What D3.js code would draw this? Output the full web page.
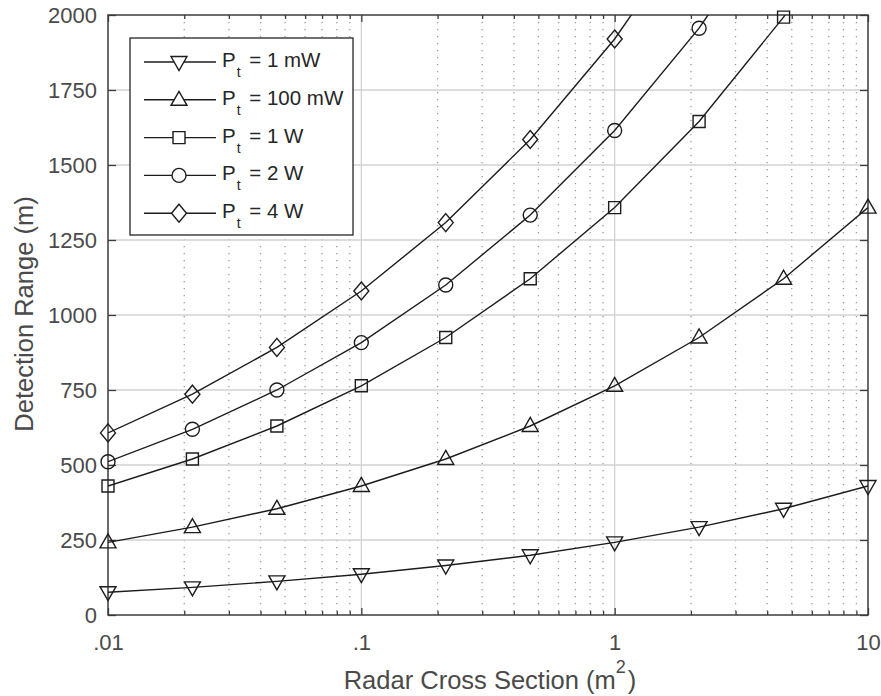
<!DOCTYPE html>
<html>
<head>
<meta charset="utf-8">
<script src="https://cdn.jsdelivr.net/npm/d3@7"></script>
<style>
  body { margin: 0; background: #fff; }
  text { font-family: "Liberation Sans", Arial, Helvetica, sans-serif; }
</style>
</head>
<body>
<svg id="chart" width="881" height="696"></svg>
<script>
// Radar cross section samples (m^2), log-spaced over three decades
const rcs = [0.01, 0.02154, 0.04642, 0.1, 0.2154, 0.4642, 1, 2.154, 4.642, 10];

// Detection range (m) for each transmit power
const range1mW   = [76, 92, 112, 136, 165, 199, 242, 293, 354, 430];
const range100mW = [242, 293, 354, 430, 520, 630, 764, 925, 1121, 1358];
const range1W    = [430, 520, 630, 764, 925, 1121, 1358, 1645, 1993, 2415];
const range2W    = [511, 619, 750, 908, 1100, 1333, 1615, 1956, 2370, 2872];
const range4W    = [607, 736, 892, 1080, 1308, 1585, 1920, 2327, 2819, 3415];

const powerLabels = ["1 mW", "100 mW", "1 W", "2 W", "4 W"];
const markerTypes = ["triangleDown", "triangleUp", "square", "circle", "diamond"];

const xTickValues = [0.01, 0.1, 1, 10];
const xTickLabels = [".01", ".1", "1", "10"];
const yTickValues = [0, 250, 500, 750, 1000, 1250, 1500, 1750, 2000];

const series = [range1mW, range100mW, range1W, range2W, range4W].map((vals, i) => ({
  label: powerLabels[i],
  marker: markerTypes[i],
  points: vals.map((v, j) => ({ x: rcs[j], y: v }))
}));

const svg = d3.select("#chart");
const plotLeft = 108, plotRight = 868, plotTop = 15, plotBottom = 615;

const x = d3.scaleLog().domain([0.01, 10]).range([plotLeft, plotRight]);
const y = d3.scaleLinear().domain([0, 2000]).range([plotBottom, plotTop]);

const axisColor = "#3c3c3c";
const textColor = "#4a4a4a";
const lineColor = "#1c1c1c";

// Minor log positions inside each decade
const minorX = [];
[0.01, 0.1, 1].forEach(d => { for (let k = 2; k <= 9; k++) minorX.push(d * k); });

// Minor vertical grid (dotted)
svg.append("g")
  .selectAll("line").data(minorX).join("line")
  .attr("x1", d => x(d)).attr("x2", d => x(d))
  .attr("y1", plotTop).attr("y2", plotBottom)
  .attr("stroke", "#9a9a9a").attr("stroke-width", 1.3)
  .attr("stroke-dasharray", "1.3,5.7");

// Major grid (solid, light)
const grid = svg.append("g").attr("stroke", "#d2d2d2").attr("stroke-width", 1.3);
grid.selectAll("line.v").data(xTickValues.slice(1, -1)).join("line").attr("class", "v")
  .attr("x1", d => x(d)).attr("x2", d => x(d)).attr("y1", plotTop).attr("y2", plotBottom);
grid.selectAll("line.h").data(yTickValues.slice(1, -1)).join("line").attr("class", "h")
  .attr("y1", d => y(d)).attr("y2", d => y(d)).attr("x1", plotLeft).attr("x2", plotRight);

// Axes: ticks point inward on all four sides
function styleAxis(g) {
  g.select(".domain").remove();
  g.selectAll(".tick line").attr("stroke", axisColor).attr("stroke-width", 1.3);
  g.selectAll(".tick text").attr("fill", textColor).style("font-size", "22px");
}
const fmt = d => xTickLabels[xTickValues.indexOf(d)];

svg.append("g").attr("transform", `translate(0,${plotBottom})`)
  .call(d3.axisBottom(x).tickValues(xTickValues).tickFormat(fmt).tickSize(-7).tickPadding(19))
  .call(styleAxis);
svg.append("g").attr("transform", `translate(0,${plotTop})`)
  .call(d3.axisTop(x).tickValues(xTickValues).tickFormat("").tickSize(-7))
  .call(styleAxis);
svg.append("g").attr("transform", `translate(0,${plotBottom})`)
  .call(d3.axisBottom(x).tickValues(minorX).tickFormat("").tickSize(-4))
  .call(styleAxis);
svg.append("g").attr("transform", `translate(0,${plotTop})`)
  .call(d3.axisTop(x).tickValues(minorX).tickFormat("").tickSize(-4))
  .call(styleAxis);
svg.append("g").attr("transform", `translate(${plotLeft},0)`)
  .call(d3.axisLeft(y).tickValues(yTickValues).tickFormat(d3.format("d")).tickSize(-8).tickPadding(11))
  .call(styleAxis);
svg.append("g").attr("transform", `translate(${plotRight},0)`)
  .call(d3.axisRight(y).tickValues(yTickValues).tickFormat("").tickSize(-8))
  .call(styleAxis);

// Axes box
svg.append("rect")
  .attr("x", plotLeft).attr("y", plotTop)
  .attr("width", plotRight - plotLeft).attr("height", plotBottom - plotTop)
  .attr("fill", "none").attr("stroke", axisColor).attr("stroke-width", 1.5);

// Data lines, clipped to the plot area
svg.append("clipPath").attr("id", "plotClip")
  .append("rect").attr("x", plotLeft).attr("y", plotTop)
  .attr("width", plotRight - plotLeft).attr("height", plotBottom - plotTop);

const line = d3.line().x(d => x(d.x)).y(d => y(d.y));
svg.append("g").attr("clip-path", "url(#plotClip)")
  .selectAll("path").data(series).join("path")
  .attr("d", d => line(d.points))
  .attr("fill", "none").attr("stroke", lineColor).attr("stroke-width", 1.4);

// Marker shapes
const markerPath = {
  triangleDown: "M-8,-5.5L8,-5.5L0,8.5Z",
  triangleUp: "M-8,5.5L8,5.5L0,-8.5Z",
  square: "M-6,-6H6V6H-6Z",
  circle: d3.symbol(d3.symbolCircle, Math.PI * 7 * 7)(),
  diamond: "M0,-9L7.5,0L0,9L-7.5,0Z"
};

const markers = svg.append("g");
series.forEach(s => {
  markers.append("g").selectAll("path")
    .data(s.points.filter(p => p.y <= 2000))
    .join("path")
    .attr("transform", p => `translate(${x(p.x)},${y(p.y)})`)
    .attr("d", markerPath[s.marker])
    .attr("fill", "none").attr("stroke", lineColor).attr("stroke-width", 1.4);
});

// Axis labels
const xLabel = svg.append("text")
  .attr("x", 490).attr("y", 689)
  .attr("text-anchor", "middle").attr("fill", textColor).style("font-size", "25.5px");
xLabel.append("tspan").text("Radar Cross Section (m");
xLabel.append("tspan").attr("dy", -16).style("font-size", "18px").text("2");
xLabel.append("tspan").attr("dy", 16).attr("dx", 2).text(")");

svg.append("text")
  .attr("transform", `translate(33,314) rotate(-90)`)
  .attr("text-anchor", "middle").attr("fill", textColor).style("font-size", "25.5px")
  .text("Detection Range (m)");

// Legend
const legend = svg.append("g");
legend.append("rect")
  .attr("x", 130).attr("y", 38).attr("width", 223).attr("height", 197)
  .attr("fill", "#fff").attr("stroke", "#262626").attr("stroke-width", 1.3);

series.forEach((s, i) => {
  const cy = 62 + i * 37.8;
  const row = legend.append("g");
  row.append("line").attr("x1", 144).attr("x2", 216).attr("y1", cy).attr("y2", cy)
    .attr("stroke", lineColor).attr("stroke-width", 1.4);
  row.append("path").attr("transform", `translate(179,${cy})`)
    .attr("d", markerPath[s.marker])
    .attr("fill", "#fff").attr("stroke", lineColor).attr("stroke-width", 1.4);
  const t = row.append("text").attr("x", 222).attr("y", cy + 5)
    .attr("fill", "#262626").style("font-size", "20.5px");
  t.append("tspan").text("P");
  t.append("tspan").attr("dy", 10).attr("dx", 1).style("font-size", "14px").text("t");
  t.append("tspan").attr("dy", -10).attr("dx", 3).text(" = " + s.label);
});
</script>
</body>
</html>
